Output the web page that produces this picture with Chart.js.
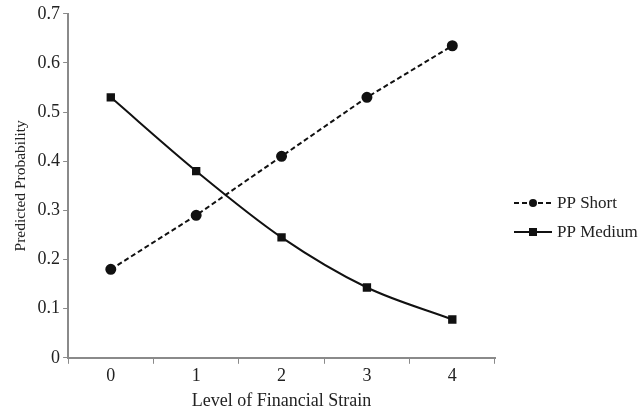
<!DOCTYPE html>
<html>
<head>
<meta charset="utf-8">
<script src="https://cdn.jsdelivr.net/npm/chart.js@4"></script>
<style>
  html, body { margin: 0; padding: 0; background: #fff; }
  #wrap { width: 641px; height: 412px; }
</style>
</head>
<body>
<div id="wrap"><canvas id="strainChart" width="641" height="412"></canvas></div>
<script>
// strain levels on the x axis
const strainLevels = ['0', '1', '2', '3', '4'];
// predicted probabilities
const ppShort = [0.18, 0.29, 0.41, 0.53, 0.635];
const ppMedium = [0.53, 0.38, 0.245, 0.143, 0.078];
const yTicks = [0, 0.1, 0.2, 0.3, 0.4, 0.5, 0.6, 0.7];

const axisGray = '#8a8a8a';
const serif = '"Liberation Serif", "Times New Roman", serif';

// legend on the right, drawn with line samples like the original
const sideLegend = {
  id: 'sideLegend',
  afterDraw(chart) {
    const ctx = chart.ctx;
    const items = chart.data.datasets;
    const x0 = 514, y0 = 203, gap = 29;
    items.forEach((ds, i) => {
      const y = y0 + i * gap;
      ctx.save();
      ctx.strokeStyle = ds.borderColor;
      ctx.lineWidth = ds.borderWidth;
      ctx.setLineDash(ds.borderDash || []);
      ctx.beginPath();
      ctx.moveTo(x0, y);
      ctx.lineTo(x0 + 38, y);
      ctx.stroke();
      ctx.setLineDash([]);
      ctx.fillStyle = ds.pointBackgroundColor;
      if (ds.pointStyle === 'rect') {
        ctx.fillRect(x0 + 19 - 4, y - 4, 8, 8);
      } else {
        ctx.beginPath();
        ctx.arc(x0 + 19, y, 4, 0, Math.PI * 2);
        ctx.fill();
      }
      ctx.fillStyle = '#222';
      ctx.font = '17px ' + serif;
      ctx.textBaseline = 'middle';
      ctx.fillText(ds.label, x0 + 43, y + 1);
      ctx.restore();
    });
  }
};

const ctx = document.getElementById('strainChart').getContext('2d');
new Chart(ctx, {
  type: 'line',
  data: {
    labels: strainLevels,
    datasets: [
      {
        label: 'PP Short',
        data: ppShort,
        borderColor: '#111',
        borderWidth: 2,
        borderDash: [5, 3],
        pointStyle: 'circle',
        pointRadius: 4.5,
        pointBackgroundColor: '#111',
        pointBorderColor: '#111',
        tension: 0
      },
      {
        label: 'PP Medium',
        data: ppMedium,
        borderColor: '#111',
        borderWidth: 2,
        pointStyle: 'rect',
        pointRadius: 4.5,
        pointBackgroundColor: '#111',
        pointBorderColor: '#111',
        cubicInterpolationMode: 'monotone'
      }
    ]
  },
  options: {
    responsive: false,
    animation: false,
    layout: { padding: { top: 9, right: 146, bottom: 0, left: 8 } },
    plugins: {
      legend: { display: false },
      tooltip: { enabled: false }
    },
    scales: {
      x: {
        offset: true,
        grid: {
          display: true,
          offset: true,
          drawOnChartArea: false,
          drawTicks: true,
          tickLength: 6,
          color: axisGray
        },
        border: { color: axisGray, width: 2 },
        ticks: { color: '#222', font: { family: serif, size: 18 }, padding: 2 },
        title: {
          display: true,
          text: 'Level of Financial Strain',
          color: '#222',
          font: { family: serif, size: 18 },
          padding: { top: 1, bottom: 0 }
        }
      },
      y: {
        min: 0,
        max: 0.7,
        afterBuildTicks: axis => { axis.ticks = yTicks.map(v => ({ value: v })); },
        grid: {
          display: true,
          drawOnChartArea: false,
          drawTicks: true,
          tickLength: 5,
          color: axisGray
        },
        border: { color: axisGray, width: 2 },
        ticks: { color: '#222', font: { family: serif, size: 18 }, padding: 3 },
        title: {
          display: true,
          text: 'Predicted Probability',
          color: '#222',
          font: { family: serif, size: 15.5 },
          padding: { bottom: 4 }
        }
      }
    }
  },
  plugins: [sideLegend]
});
</script>
</body>
</html>
